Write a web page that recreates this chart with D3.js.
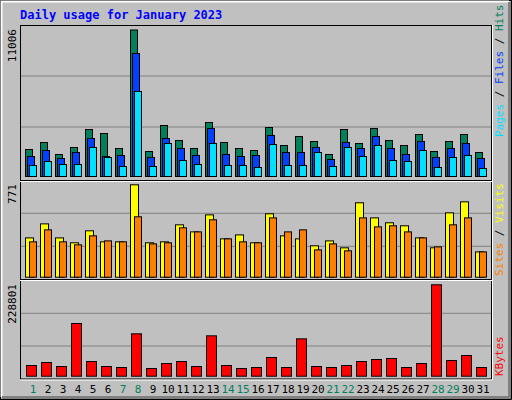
<!DOCTYPE html>
<html><head><meta charset="utf-8">
<script src="https://cdn.jsdelivr.net/npm/d3@7"></script>
<style>body{margin:0;background:#fff}svg{display:block}text{font-family:"DejaVu Sans Mono",monospace}</style>
</head><body><svg id="c" width="512" height="400"></svg>
<script>
const days = d3.range(1,32);
const weekend = [1,7,8,14,15,21,22,28,29];
const hits = [2028,2554,1653,2179,3531,3230,2104,11006,1878,3831,2705,2104,4057,2554,2104,1953,3681,2329,3005,2629,1653,3531,2479,3606,2705,2329,3155,1878,2629,3155,1803];
const files = [1503,1953,1352,1803,2855,1503,1578,9241,1427,2855,2104,1578,3606,1653,1503,1578,3080,1803,1803,2179,1277,2554,2104,3005,2104,1653,2629,1427,2104,2479,1352];
const pages = [826,1127,902,902,2179,1427,751,6386,751,2479,1202,902,2479,826,826,676,2404,826,826,1803,751,2179,1503,2329,1202,1127,1953,676,1427,1578,601];
const visits = [328,445,328,287,387,295,295,771,287,295,437,378,520,320,353,287,529,345,320,262,303,245,621,495,454,429,328,245,537,629,211];
const sites = [295,395,295,270,345,303,295,504,278,287,412,378,479,320,295,287,495,378,395,228,278,220,495,420,429,378,328,253,437,495,211];
const kbytes = [26720,34235,24215,131930,36740,24215,21710,106045,19205,31730,36740,24215,101035,26720,19205,21710,46760,21710,93520,24215,21710,26720,36740,41750,44255,21710,31730,228801,39245,51770,21710];

const svg = d3.select("#c");
svg.append("rect").attr("width",512).attr("height",400).attr("fill","#C0C0C0");
// 3D frame
svg.append("path").attr("d","M0.5,399 V0.5 H511").attr("stroke","#000").attr("fill","none");
svg.append("path").attr("d","M1.5,397 V1.5 H509").attr("stroke","#fff").attr("stroke-width",2).attr("fill","none");
svg.append("path").attr("d","M2,397.5 H509.5 V2").attr("stroke","#808080").attr("stroke-width",3).attr("fill","none");
svg.append("path").attr("d","M0,399.5 H511.5 V0").attr("stroke","#000").attr("fill","none");

svg.append("text").attr("x",20).attr("y",19).attr("fill","#0000FF").attr("font-size",12).attr("font-weight","bold").text("Daily usage for January 2023");

const X = d3.scaleLinear().domain([1,31]).range([25,475]);
const L=20, R=491;
const panels = [
  {top:25, bot:180, base:176, peak:29.5, max:11006, grid:[76,127]},
  {top:180, bot:279, base:276.7, peak:184.3, max:771, grid:[213.3,246.3]},
  {top:279, bot:378.5, base:375.7, peak:284.3, max:228801, grid:[313.3,346]}
];
panels.forEach(p=>{
  svg.append("rect").attr("x",L+0.5).attr("y",p.top+0.5).attr("width",R-L).attr("height",p.bot-p.top).attr("fill","none").attr("stroke","#000");
  p.grid.forEach(g=>svg.append("line").attr("x1",L+1).attr("x2",R).attr("y1",g).attr("y2",g).attr("stroke","#808080"));
  p.y = d3.scaleLinear().domain([0,p.max]).range([p.base,p.peak]);
});
// white separators
[180,279,378.5].forEach(yy=>svg.append("line").attr("x1",L).attr("x2",R+1).attr("y1",yy+1.5).attr("y2",yy+1.5).attr("stroke","#fff"));
svg.append("line").attr("x1",R+1.5).attr("x2",R+1.5).attr("y1",25).attr("y2",380).attr("stroke","#fff");

function bars(p, vals, dx, w, color){
  svg.append("g").selectAll("rect").data(vals).join("rect")
    .attr("x",(d,i)=>X(days[i])+dx+0.5).attr("y",d=>p.y(d)+0.5)
    .attr("width",w).attr("height",d=>p.base-p.y(d))
    .attr("fill",color).attr("stroke","#000");
}
bars(panels[0],hits,0,7,"#00805C");
bars(panels[0],files,2,7,"#0040FF");
bars(panels[0],pages,4,7,"#00E0FF");
bars(panels[1],visits,0,8,"#FFFF00");
bars(panels[1],sites,4,7,"#FF8000");
bars(panels[2],kbytes,1,10,"#FF0000");

svg.append("g").selectAll("text").data(days).join("text")
  .attr("x",d=>X(d)+8).attr("y",393).attr("text-anchor","middle").attr("font-size",11)
  .attr("fill",d=>weekend.includes(d)?"#00805C":"#000").text(d=>d);

const leftLabels=[["11006",29],["771",184],["228801",284]];
leftLabels.forEach(([t,y])=>svg.append("text").attr("transform",`translate(16,${y}) rotate(-90)`)
  .attr("text-anchor","end").attr("font-size",11).attr("fill","#000").text(t));

function rlabel(parts, y){
  const t=svg.append("text").attr("transform",`translate(503,${y}) rotate(-90)`).attr("font-size",11);
  parts.forEach(([s,c])=>t.append("tspan").attr("fill",c).text(s));
}
rlabel([["Pages","#00E0FF"],[" / ","#000"],["Files","#0040FF"],[" / ","#000"],["Hits","#00805C"]],137);
rlabel([["Sites","#FF8000"],[" / ","#000"],["Visits","#FFFF00"]],276);
rlabel([["KBytes","#FF0000"]],376);
</script></body></html>
